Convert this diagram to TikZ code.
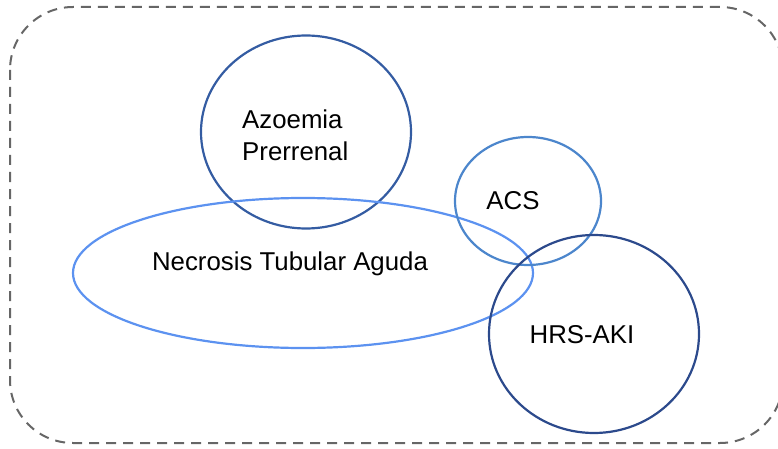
\documentclass[tikz,border=0pt]{standalone}
\usepackage{fontspec}
\setmainfont{Liberation Sans}
\usetikzlibrary{shapes.geometric}
\definecolor{azoc}{RGB}{52,92,162}
\definecolor{ntac}{RGB}{92,146,240}
\definecolor{acsc}{RGB}{76,134,204}
\definecolor{hrsc}{RGB}{44,74,140}
\definecolor{borderc}{RGB}{102,102,102}
\tikzset{
  setshape/.style={ellipse, draw=#1, line width=2.2pt, inner sep=0pt, outer sep=0pt},
  lbl/.style={font=\fontsize{25.8}{32}\selectfont, text=black, inner sep=0pt},
  frame/.style={draw=borderc, line width=2pt, dash pattern=on 10pt off 7pt, rounded corners=63pt}
}
\begin{document}
\begin{tikzpicture}[x=1pt,y=-1pt]
\useasboundingbox (0,0) rectangle (778,449);
\draw[frame] (10,7) rectangle (783,443);
\node[setshape=azoc, minimum width=210pt, minimum height=193pt] (azo) at (306,132) {};
\node[setshape=ntac, minimum width=460pt, minimum height=150pt] (nta) at (303,273) {};
\node[setshape=acsc, minimum width=146pt, minimum height=128pt] (acs) at (528,201) {};
\node[setshape=hrsc, minimum width=210pt, minimum height=198pt] (hrs) at (594,334) {};
\node[lbl, align=left, anchor=west] (azot) at (242,135) {Azoemia\\Prerrenal};
\node[lbl] (ntat) at (290,264) {Necrosis Tubular Aguda};
\node[lbl] (acst) at (513,201) {ACS};
\node[lbl] (hrst) at (582,335) {HRS-AKI};
\end{tikzpicture}
\end{document}
